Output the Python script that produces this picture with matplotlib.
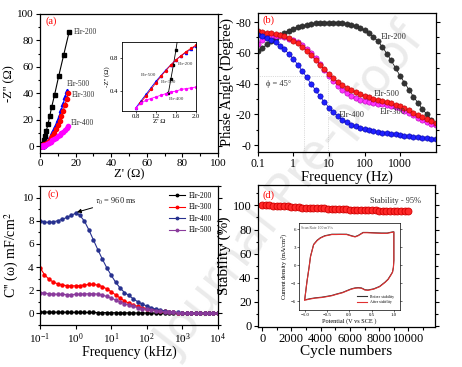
import matplotlib
matplotlib.use("Agg")
import matplotlib.pyplot as plt
from matplotlib.ticker import MultipleLocator, NullLocator

plt.rcParams["font.family"] = ["Liberation Serif", "DejaVu Serif"]
plt.rcParams["mathtext.fontset"] = "stix"

# ---- (a) Nyquist plot: Z' and -Z'' (ohm)
z200_re = [1.45, 1.5, 1.55, 1.6, 1.65, 1.8, 2.0, 2.5, 3.0, 3.6, 4.5, 5.5, 6.6, 8.2, 10.5, 13.3, 16.3]
z200_im = [0.38, 0.55, 0.72, 0.9, 1.1, 1.7, 2.6, 5.0, 8.0, 12.0, 17.0, 23.0, 30.0, 39.0, 53.0, 69.0, 86.0]
z300_re = [0.88, 1.0, 1.1, 1.2, 1.3, 1.4, 1.5, 1.6, 1.7, 1.8, 1.9, 2.0, 2.5, 3.0, 4.0, 5.0, 6.0, 7.0, 8.0, 9.0, 10.0, 11.0, 12.0, 13.0, 14.0, 15.0, 16.0]
z300_im = [0.25, 0.34, 0.42, 0.5, 0.58, 0.65, 0.72, 0.78, 0.83, 0.88, 0.92, 0.96, 1.2, 1.6, 2.6, 4.0, 6.0, 8.0, 10.5, 13.0, 16.0, 19.5, 23.0, 27.0, 31.0, 36.0, 40.0]
z400_re = [0.8, 0.9, 1.0, 1.1, 1.2, 1.3, 1.4, 1.5, 1.6, 1.7, 1.8, 1.9, 2.0, 2.5, 3.0, 4.0, 5.0, 6.0, 7.0, 8.0, 9.0, 10.0, 11.0, 12.0, 13.0, 14.0, 15.0, 15.5]
z400_im = [0.2, 0.25, 0.29, 0.31, 0.33, 0.35, 0.37, 0.39, 0.4, 0.42, 0.43, 0.44, 0.45, 0.6, 0.9, 1.7, 2.6, 3.6, 4.6, 5.6, 6.6, 7.6, 8.6, 9.8, 11.0, 12.5, 14.2, 15.5]
z500_re = [0.8, 0.9, 1.0, 1.1, 1.2, 1.3, 1.4, 1.5, 1.6, 1.7, 1.8, 1.9, 2.0, 2.5, 3.0, 4.0, 5.0, 6.0, 7.0, 8.0, 9.0, 10.0, 11.0, 12.0, 13.0, 14.0, 15.0]
z500_im = [0.2, 0.28, 0.36, 0.44, 0.52, 0.59, 0.66, 0.72, 0.78, 0.83, 0.87, 0.91, 0.95, 1.3, 1.9, 3.4, 5.4, 7.8, 10.5, 13.5, 16.5, 20.0, 23.5, 27.5, 32.0, 37.0, 42.0]

# ---- frequency grid shared by (b) in Hz and (c) in kHz
freq = [0.1, 0.133, 0.178, 0.237, 0.316, 0.422, 0.562, 0.75, 1, 1.33, 1.78, 2.37, 3.16, 4.22,
        5.62, 7.5, 10, 13.3, 17.8, 23.7, 31.6, 42.2, 56.2, 75, 100, 133, 178, 237, 316, 422,
        562, 750, 1000, 1330, 1780, 2370, 3160, 4220, 5620, 7500, 10000]

# ---- (b) Bode phase angle (degree)
phase_200 = [-61, -63, -65.5, -67.5, -69.5, -71.5, -73, -74.5, -75.8, -76.8, -77.6, -78.2, -78.7, -79.1,
             -79.4, -79.6, -79.7, -79.7, -79.6, -79.3, -78.9, -78.2, -77.3, -76.2, -74.8, -72.8, -70.5,
             -67.5, -64, -59.5, -55, -50, -45, -40.5, -36, -31.5, -27.5, -23.5, -20, -16.5, -13.5]
phase_300 = [-66, -68.5, -70, -70.8, -71, -70.8, -70.2, -69.3, -68.2, -66.8, -65, -62.8, -60, -56.8,
             -53, -49, -45, -41.5, -38.5, -36, -34, -32.2, -30.8, -29.6, -28.6, -27.8, -27.2, -26.8,
             -26.4, -26, -25.5, -24.8, -23.8, -22.4, -20.8, -19.3, -17.8, -16.4, -15.1, -13.9, -12.8]
phase_400 = [-71.5, -70.8, -69.8, -68.5, -66.8, -64.7, -62.2, -59.3, -56, -52.3, -48.2, -44, -39.8, -35.6,
             -31.6, -27.8, -24.4, -21.4, -18.8, -16.6, -14.8, -13.3, -12.1, -11.1, -10.3, -9.6, -9.0,
             -8.5, -8.1, -7.7, -7.3, -6.9, -6.5, -6.1, -5.7, -5.3, -5.0, -4.7, -4.4, -4.2, -4.0]
phase_500 = [-74, -73.6, -73.2, -72.8, -72.3, -71.7, -70.8, -69.5, -68, -66.2, -64, -61.5, -58.5, -55.5,
             -52.3, -49.2, -46.3, -43.6, -41.2, -39.2, -37.4, -35.8, -34.4, -33.1, -32, -31, -30.1,
             -29.3, -28.6, -27.9, -27.2, -26.3, -25.3, -24, -22.6, -21.1, -19.6, -18.2, -16.9, -15.6, -14.5]

# ---- (c) imaginary capacitance C'' (mF/cm2)
cap_200 = [0.12, 0.12, 0.11, 0.11, 0.1, 0.1, 0.1, 0.09, 0.09, 0.09, 0.08, 0.08, 0.08, 0.07, 0.07,
           0.07, 0.06, 0.06, 0.05, 0.05, 0.05, 0.04, 0.04, 0.04, 0.03, 0.03, 0.03, 0.02, 0.02, 0.02,
           0.02, 0.01, 0.01, 0.01, 0.01, 0.01, 0, 0, 0, 0, 0]
cap_300 = [3.95, 3.35, 2.95, 2.7, 2.55, 2.45, 2.4, 2.38, 2.38, 2.4, 2.45, 2.5, 2.5, 2.45, 2.32, 2.12,
           1.88, 1.6, 1.33, 1.08, 0.88, 0.72, 0.6, 0.5, 0.42, 0.35, 0.28, 0.22, 0.17, 0.13, 0.1, 0.07,
           0.05, 0.04, 0.03, 0.02, 0.02, 0.01, 0.01, 0, 0]
cap_400 = [8.0, 7.88, 7.85, 7.9, 8.0, 8.12, 8.28, 8.45, 8.65, 8.45, 7.95, 7.2, 6.35, 5.5, 4.7, 3.95,
           3.3, 2.7, 2.2, 1.8, 1.55, 1.25, 1.0, 0.8, 0.65, 0.5, 0.38, 0.29, 0.22, 0.15, 0.11, 0.08,
           0.05, 0.04, 0.03, 0.02, 0.02, 0.01, 0.01, 0, 0]
cap_500 = [1.8, 1.75, 1.7, 1.67, 1.65, 1.64, 1.63, 1.63, 1.64, 1.66, 1.68, 1.7, 1.7, 1.66, 1.58, 1.47,
           1.33, 1.17, 1.0, 0.85, 0.72, 0.6, 0.5, 0.42, 0.35, 0.29, 0.24, 0.19, 0.15, 0.12, 0.09, 0.07,
           0.05, 0.04, 0.03, 0.02, 0.02, 0.01, 0.01, 0, 0]

# ---- (d) cycling stability (%)
cycles = [0, 250, 500, 750, 1000, 1250, 1500, 1750, 2000, 2250, 2500, 2750, 3000, 3250, 3500, 3750,
          4000, 4250, 4500, 4750, 5000, 5250, 5500, 5750, 6000, 6250, 6500, 6750, 7000, 7250, 7500,
          7750, 8000, 8250, 8500, 8750, 9000, 9250, 9500, 9750, 10000]
stability = [100, 100, 100, 99.9, 99.8, 99.7, 99.5, 99.2, 98.7, 98.4, 98.3, 98.2, 98.1, 98.0, 97.9,
             97.8, 97.7, 97.5, 97.4, 97.2, 97.1, 97.0, 96.9, 96.8, 96.6, 96.5, 96.4, 96.3, 96.2, 96.0,
             95.9, 95.8, 95.7, 95.6, 95.5, 95.4, 95.3, 95.2, 95.1, 95.0, 95.0]

# ---- (d) inset CV loop before / after cycling
cv_potential = [-1.0, -0.98, -0.95, -0.9, -0.87, -0.8, -0.72, -0.65, -0.55, -0.45, -0.39, -0.3, -0.2,
                -0.06, 0.05, 0.13, 0.2, 0.31, 0.4, 0.55, 0.72, 0.85, 0.98, 1.0, 1.0, 0.99, 0.97,
                0.93, 0.87, 0.8, 0.68, 0.55, 0.42, 0.35, 0.3, 0.27, 0.2, 0.13, 0.05, -0.02, -0.15,
                -0.3, -0.39, -0.5, -0.62, -0.76, -0.88, -0.97, -1.0]
cv_after = [-5.8, -4.6, -2.8, -0.3, 1.4, 3.4, 4.1, 4.5, 4.85, 5.0, 5.1, 5.1, 5.12, 5.1, 4.85, 4.7, 4.9,
            5.4, 5.4, 5.35, 5.3, 5.3, 5.5, 5.5, 0.8, -0.4, -1.2, -1.7, -2.4, -2.9, -3.6, -4.0,
            -4.2, -4.15, -3.95, -3.85, -3.8, -3.85, -4.0, -4.2, -4.6, -4.9, -5.1, -5.25, -5.4,
            -5.5, -5.65, -5.8, -5.8]
cv_before = [-5.75, -4.55, -2.75, -0.25, 1.45, 3.45, 4.15, 4.55, 4.9, 5.05, 5.15, 5.15, 5.15, 5.15, 4.9,
             4.75, 4.95, 5.45, 5.45, 5.4, 5.35, 5.35, 5.55, 5.55, 0.85, -0.35, -1.15, -1.65, -2.35,
             -2.85, -3.55, -3.95, -4.15, -4.1, -3.9, -3.8, -3.75, -3.8, -3.95, -4.15, -4.55, -4.85,
             -5.05, -5.2, -5.35, -5.45, -5.6, -5.75, -5.75]

BLUE_C = "#27318f"
PURPLE_C = "#8a3b9c"

fig = plt.figure(figsize=(4.62, 3.67), dpi=100)

# watermark behind everything
fig.text(0.63, 0.48, "Journal Pre-proof", fontsize=35, rotation=52, color="#ebebeb",
         family="DejaVu Sans", ha="center", va="center", zorder=-5)


def style_axes(ax, labelsize):
    ax.set_facecolor("none")
    ax.tick_params(which="both", direction="out", right=True, top=False, labelsize=labelsize,
                   width=0.8, pad=1.5)
    ax.tick_params(which="major", length=3)
    ax.tick_params(which="minor", length=1.8)
    for s in ax.spines.values():
        s.set_linewidth(0.9)


# ================= (a)
ax_a = fig.add_axes([0.0866, 0.583, 0.385, 0.379])
style_axes(ax_a, 8)
ax_a.plot(z200_re, z200_im, "-s", color="black", ms=3.2, lw=0.8)
ax_a.plot(z500_re, z500_im, "-^", color="blue", ms=3.2, lw=0.8)
ax_a.plot(z300_re, z300_im, "-o", color="red", ms=3.0, lw=0.8)
ax_a.plot(z400_re, z400_im, "-o", color="magenta", ms=3.0, lw=0.8)
ax_a.set_xlim(0, 100)
ax_a.set_ylim(-5, 100)
ax_a.xaxis.set_major_locator(MultipleLocator(20))
ax_a.xaxis.set_minor_locator(MultipleLocator(10))
ax_a.yaxis.set_major_locator(MultipleLocator(20))
ax_a.yaxis.set_minor_locator(MultipleLocator(10))
ax_a.set_xlabel("Z' (\u03a9)", fontsize=9, labelpad=0)
ax_a.set_ylabel("-Z'' (\u03a9)", fontsize=9, labelpad=1)
ax_a.text(0.03, 0.93, "(a)", transform=ax_a.transAxes, color="red", fontsize=7.5)
for lbl, x, y in [("Elr-200", 19, 86), ("Elr-500", 15, 47), ("Elr-300", 18, 39), ("Elr-400", 17.5, 18)]:
    ax_a.text(x, y, lbl, fontsize=5.5, color="#333333", va="center")

ax_ai = fig.add_axes([0.264, 0.698, 0.160, 0.188])
ax_ai.set_facecolor("white")
ax_ai.tick_params(direction="out", labelsize=4.8, length=1.5, width=0.5, pad=1)
for s in ax_ai.spines.values():
    s.set_linewidth(0.6)
ax_ai.plot(z200_re, z200_im, "-s", color="black", ms=1.5, lw=0.6)
ax_ai.plot(z500_re, z500_im, "-^", color="blue", ms=1.5, lw=0.6)
ax_ai.plot(z300_re, z300_im, "-o", color="red", ms=1.4, lw=0.6)
ax_ai.plot(z400_re, z400_im, "-o", color="magenta", ms=1.4, lw=0.6)
ax_ai.set_xlim(0.52, 2.0)
ax_ai.set_ylim(0.16, 1.0)
ax_ai.set_xticks([0.8, 1.2, 1.6, 2.0])
ax_ai.set_yticks([0.4, 0.8])
ax_ai.set_xlabel("Z' \u03a9", fontsize=5, labelpad=0)
ax_ai.set_ylabel("-Z'' (\u03a9)", fontsize=5, labelpad=0)
for lbl, x, y in [("Elr-500", 0.9, 0.6), ("Elr-300", 1.3, 0.51), ("Elr-200", 1.63, 0.73), ("Elr-400", 1.45, 0.31)]:
    ax_ai.text(x, y, lbl, fontsize=3.6, color="#333333", va="center")

# ================= (b)
ax_b = fig.add_axes([0.558, 0.586, 0.385, 0.379])
style_axes(ax_b, 8.5)
mk = dict(marker="o", ms=3.8, lw=0.5, mew=0.4)
ax_b.plot(freq, phase_200, color="black", mec="#222222", mfc="#333333", **mk)
ax_b.plot(freq, phase_300, color="magenta", mec="#b000b0", mfc="#ff33ff", **mk)
ax_b.plot(freq, phase_500, color="red", mec="#b00000", mfc="#ff2020", **mk)
ax_b.plot(freq, phase_400, color="blue", mec="#0000a0", mfc="#2020ff", **mk)
ax_b.set_xscale("log")
ax_b.set_xlim(0.1, 10000)
ax_b.set_ylim(4.5, -86)
ax_b.set_xticks([0.1, 1, 10, 100, 1000], labels=["0.1", "1", "10", "100", "1000"])
ax_b.xaxis.set_minor_locator(NullLocator())
ax_b.set_yticks([-80, -60, -40, -20, 0], labels=["-80", "-60", "-40", "-20", "-0"])
ax_b.yaxis.set_minor_locator(MultipleLocator(10))
ax_b.plot([0.1, 10], [-45, -45], ls=":", color="#bbbbbb", lw=0.5, zorder=0)
ax_b.plot([2.0, 2.0], [-45, 4.5], ls=":", color="#bbbbbb", lw=0.5, zorder=0)
ax_b.plot([9.5, 9.5], [-45, 4.5], ls=":", color="#bbbbbb", lw=0.5, zorder=0)
ax_b.set_xlabel("Frequency (Hz)", fontsize=10.5, labelpad=0)
ax_b.set_ylabel("Phase Angle (Degree)", fontsize=10.5, labelpad=1)
ax_b.text(0.025, 0.93, "(b)", transform=ax_b.transAxes, color="red", fontsize=7.5)
ax_b.text(0.17, -40, "\u03d5 = 45\u00b0", fontsize=6, color="#333333", va="center")
for lbl, x, y in [("Elr-200", 290, -70), ("Elr-500", 180, -33), ("Elr-300", 260, -21.5), ("Elr-400", 19, -19.5)]:
    ax_b.text(x, y, lbl, fontsize=6, color="#333333", va="center")

# ================= (c)
ax_c = fig.add_axes([0.0866, 0.1144, 0.385, 0.379])
style_axes(ax_c, 8)
mk_c = dict(marker="o", ms=2.2, lw=0.8)
ax_c.plot(freq, cap_200, color="black", label="Elr-200", **mk_c)
ax_c.plot(freq, cap_300, color="red", label="Elr-300", **mk_c)
ax_c.plot(freq, cap_400, color=BLUE_C, label="Elr-400", **mk_c)
ax_c.plot(freq, cap_500, color=PURPLE_C, label="Elr-500", **mk_c)
ax_c.set_xscale("log")
ax_c.set_xlim(0.1, 10000)
ax_c.set_ylim(-1, 11)
ax_c.xaxis.set_minor_locator(NullLocator())
ax_c.yaxis.set_major_locator(MultipleLocator(2))
ax_c.yaxis.set_minor_locator(MultipleLocator(1))
ax_c.set_xlabel("Frequency (kHz)", fontsize=10, labelpad=0)
ax_c.set_ylabel("C'' (\u03c9) mF/cm$^2$", fontsize=10, labelpad=1)
ax_c.text(0.04, 0.92, "(c)", transform=ax_c.transAxes, color="red", fontsize=7.5)
ax_c.annotate("$\\tau_0$ = 960 ms", xy=(1.0, 8.7), xytext=(3.6, 9.7), fontsize=6, color="#222222",
              va="center", arrowprops=dict(arrowstyle="-|>", color="black", lw=0.7,
                                           mutation_scale=6, shrinkA=0, shrinkB=1))
ax_c.legend(loc="upper right", frameon=False, fontsize=5.5, handlelength=2.2, markerscale=0.8,
            borderaxespad=0.4, labelspacing=0.45, handletextpad=0.4)

# ================= (d)
ax_d = fig.add_axes([0.558, 0.109, 0.383, 0.387])
style_axes(ax_d, 9)
ax_d.plot(cycles, stability, "-", color="#ff2a2a", lw=3.5, solid_capstyle="round")
ax_d.plot(cycles, stability, "o", color="red", mfc="#ff2a2a", mec="#d00000", ms=5, mew=0.6)
ax_d.set_xlim(-300, 11800)
ax_d.set_ylim(-1, 117)
ax_d.xaxis.set_major_locator(MultipleLocator(2000))
ax_d.xaxis.set_minor_locator(MultipleLocator(1000))
ax_d.yaxis.set_major_locator(MultipleLocator(20))
ax_d.yaxis.set_minor_locator(MultipleLocator(10))
ax_d.set_xlabel("Cycle numbers", fontsize=11, labelpad=0)
ax_d.set_ylabel("Stability (%)", fontsize=11, labelpad=1)
ax_d.text(0.025, 0.91, "(d)", transform=ax_d.transAxes, color="red", fontsize=7.5)
ax_d.text(7400, 104, "Stability - 95%", fontsize=6, color="#333333", va="center")

ax_di = fig.add_axes([0.647, 0.155, 0.219, 0.237])
ax_di.set_facecolor("white")
ax_di.tick_params(direction="out", labelsize=3.5, length=1.2, width=0.4, pad=1, right=True)
for s in ax_di.spines.values():
    s.set_linewidth(0.5)
ax_di.plot(cv_potential, cv_before, color="#333333", lw=0.8, label="Before stability")
ax_di.plot(cv_potential, cv_after, color="#e03030", lw=0.8, label="After stability")
ax_di.set_xlim(-1.13, 1.14)
ax_di.set_ylim(-7.5, 7.0)
ax_di.set_xticks([-1.0, -0.5, 0.0, 0.5, 1.0])
ax_di.set_yticks([-6, -3, 0, 3, 6])
ax_di.set_xlabel("Potential (V vs SCE )", fontsize=4.5, labelpad=0.5)
ax_di.set_ylabel("Current density (mA/cm$^2$)", fontsize=4.5, labelpad=0.5)
ax_di.text(-1.08, 6.2, "Scan Rate 100 mV/s", fontsize=2.8, color="#555555", va="center")
ax_di.legend(loc="lower right", frameon=False, fontsize=2.8, handlelength=2.5,
             borderaxespad=1.2, labelspacing=0.3)

fig.savefig("out.png", dpi=100)
